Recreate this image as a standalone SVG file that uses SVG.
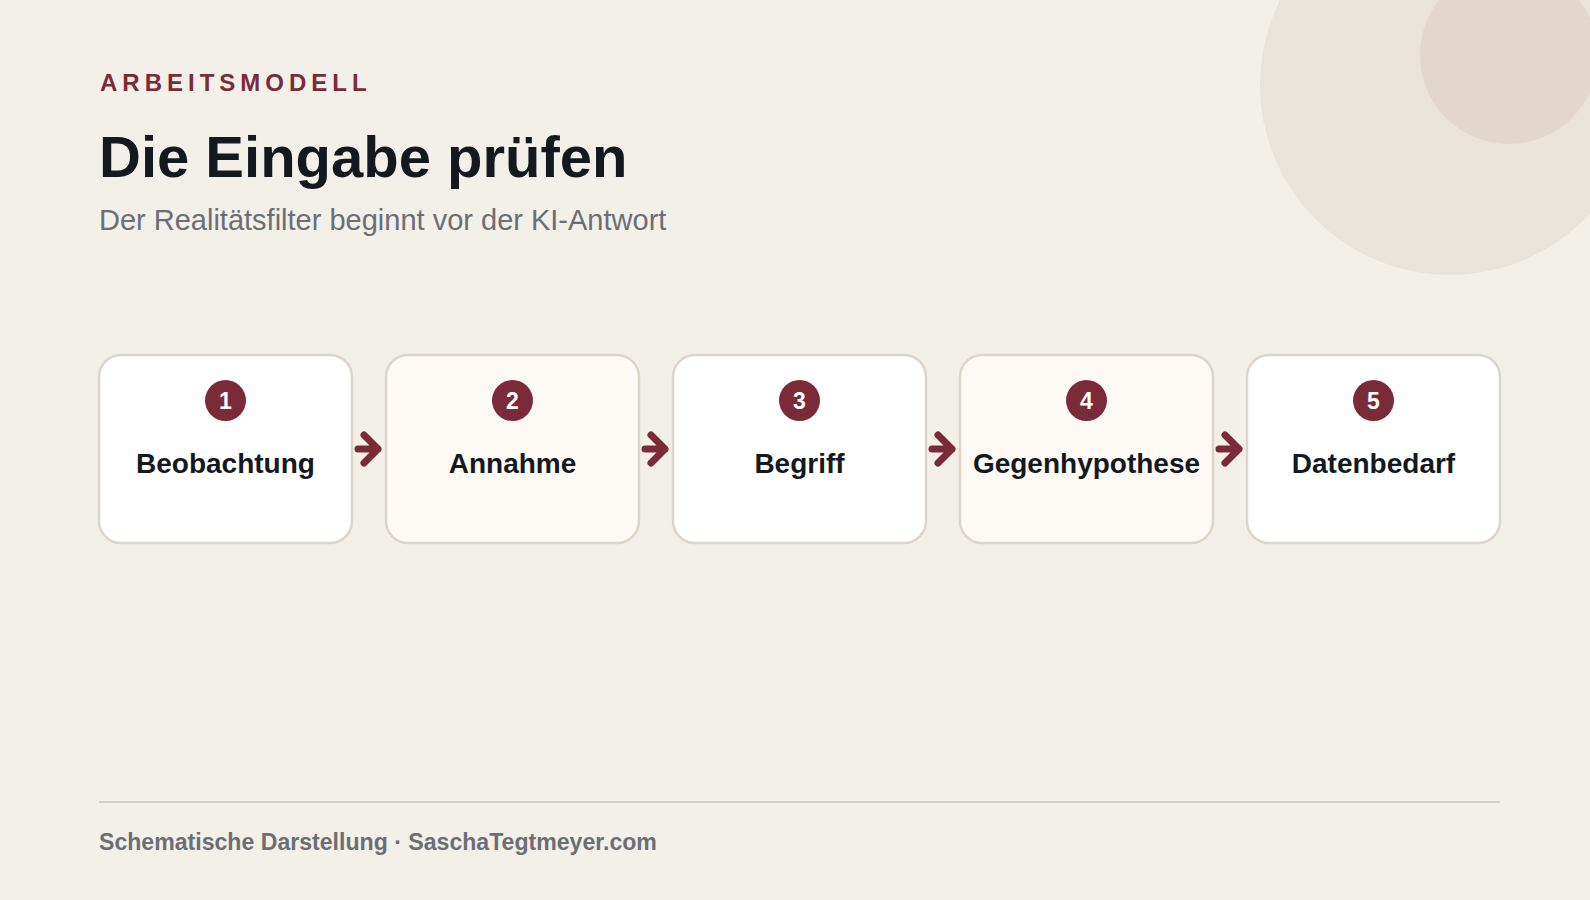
<svg xmlns="http://www.w3.org/2000/svg" width="1590" height="900" viewBox="0 0 1590 900">
  <defs>
    <style>
      .bg { fill: #f3f0e9; }
      .box { stroke: #ddd5c9; stroke-width: 2.5; }
      .odd { fill: #ffffff; }
      .even { fill: #fdfaf5; }
      .badge { fill: #7b2a3a; }
      .num { font-family: "Liberation Sans", Arial, sans-serif; font-weight: 700; font-size: 23px; fill: #ffffff; text-anchor: middle; }
      .lbl { font-family: "Liberation Sans", Arial, sans-serif; font-weight: 700; font-size: 28px; fill: #14181f; text-anchor: middle; }
      .arrow { fill: none; stroke: #7b2a3a; stroke-width: 7; stroke-linecap: round; stroke-linejoin: round; }
      .kicker { font-family: "Liberation Sans", Arial, sans-serif; font-weight: 700; font-size: 24px; letter-spacing: 5px; fill: #7b2a3a; }
      .title { font-family: "Liberation Sans", Arial, sans-serif; font-weight: 700; font-size: 58px; fill: #14181f; }
      .sub { font-family: "Liberation Sans", Arial, sans-serif; font-size: 29px; fill: #6b6e75; }
      .foot { font-family: "Liberation Sans", Arial, sans-serif; font-weight: 700; font-size: 23.1px; fill: #6b6e75; }
    </style>
  </defs>
  <rect class="bg" x="0" y="0" width="1590" height="900"/>
  <g id="decor">
    <circle cx="1450" cy="85" r="190" fill="#e9e3da"/>
    <circle cx="1509" cy="55" r="89" fill="#e2d6cd"/>
  </g>
  <g id="header">
    <text class="kicker" x="100" y="91">ARBEITSMODELL</text>
    <text class="title" x="99" y="177">Die Eingabe prüfen</text>
    <text class="sub" x="99" y="230">Der Realitätsfilter beginnt vor der KI-Antwort</text>
  </g>
  <g id="node1">
    <rect class="box odd" x="99" y="355" width="253" height="188" rx="22"/>
    <circle class="badge" cx="225.5" cy="400.5" r="20.5"/>
    <text class="num" x="225.5" y="408.7">1</text>
    <text class="lbl" x="225.5" y="472.5">Beobachtung</text>
  </g>
  <g id="node2">
    <rect class="box even" x="386" y="355" width="253" height="188" rx="22"/>
    <circle class="badge" cx="512.5" cy="400.5" r="20.5"/>
    <text class="num" x="512.5" y="408.7">2</text>
    <text class="lbl" x="512.5" y="472.5">Annahme</text>
  </g>
  <g id="node3">
    <rect class="box odd" x="673" y="355" width="253" height="188" rx="22"/>
    <circle class="badge" cx="799.5" cy="400.5" r="20.5"/>
    <text class="num" x="799.5" y="408.7">3</text>
    <text class="lbl" x="799.5" y="472.5">Begriff</text>
  </g>
  <g id="node4">
    <rect class="box even" x="960" y="355" width="253" height="188" rx="22"/>
    <circle class="badge" cx="1086.5" cy="400.5" r="20.5"/>
    <text class="num" x="1086.5" y="408.7">4</text>
    <text class="lbl" x="1086.5" y="472.5">Gegenhypothese</text>
  </g>
  <g id="node5">
    <rect class="box odd" x="1247" y="355" width="253" height="188" rx="22"/>
    <circle class="badge" cx="1373.5" cy="400.5" r="20.5"/>
    <text class="num" x="1373.5" y="408.7">5</text>
    <text class="lbl" x="1373.5" y="472.5">Datenbedarf</text>
  </g>
  <g id="connectors">
    <path class="arrow" d="M358 449 H378 M364 435 L378 449 L364 463"/>
    <path class="arrow" d="M645 449 H665 M651 435 L665 449 L651 463"/>
    <path class="arrow" d="M932 449 H952 M938 435 L952 449 L938 463"/>
    <path class="arrow" d="M1219 449 H1239 M1225 435 L1239 449 L1225 463"/>
  </g>
  <g id="footer">
    <line x1="99" y1="802" x2="1500" y2="802" stroke="#d6d0c6" stroke-width="2"/>
    <text class="foot" x="99" y="850">Schematische Darstellung · SaschaTegtmeyer.com</text>
  </g>
</svg>
